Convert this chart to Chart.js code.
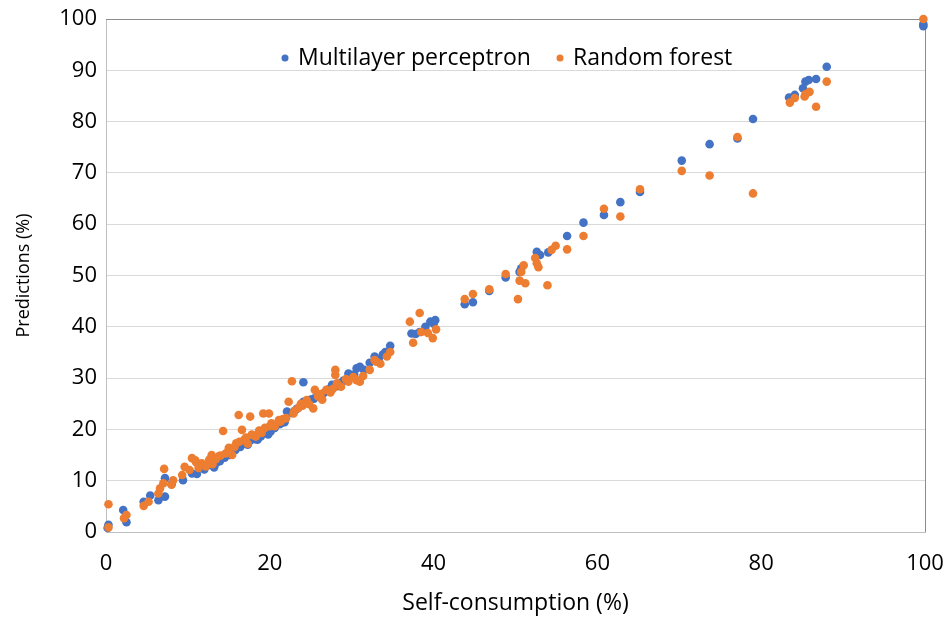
<!DOCTYPE html>
<html>
<head>
<meta charset="utf-8">
<script src="https://cdn.jsdelivr.net/npm/chart.js@4.4.0/dist/chart.umd.min.js"></script>
<style>
  body { margin: 0; background: #fff; }
  #wrap { width: 947px; height: 619px; position: relative; }
</style>
</head>
<body>
<div id="wrap"><canvas id="myChart"></canvas></div>
<script>
// series names
const seriesNames = ['Multilayer perceptron', 'Random forest'];

// Multilayer perceptron: self-consumption (x) vs prediction (y)
const mlpX = [0.2, 0.3, 2.1, 2.5, 4.6, 5.4, 6.4, 7.2, 7.2, 8.0, 9.4, 10.5, 11.1, 11.8, 12.5, 13.2, 13.9, 14.5,
  15.1, 15.8, 16.4, 17.0, 17.6, 18.2, 18.9, 19.5, 20.1, 20.6, 21.2, 21.8, 22.1, 22.7, 23.3, 24.1, 24.1, 24.8,
  25.4, 26.0, 26.6, 27.2, 27.6, 28.2, 29.0, 29.6, 30.0, 30.6, 31.0, 31.5, 32.2, 32.8, 33.3, 34.1, 34.7, 37.3,
  37.8, 38.3, 39.0, 39.6, 40.2, 40.0, 43.8, 44.8, 46.8, 48.8, 50.5, 50.7, 52.6, 53.0, 54.0, 56.3, 58.3, 60.8,
  62.8, 65.2, 70.3, 73.7, 77.1, 79.0, 83.4, 84.1, 85.1, 85.4, 85.8, 86.7, 88.0, 99.8, 99.8,
  12.0, 13.5, 15.5, 17.3, 18.5, 19.8, 21.5, 23.0, 25.0, 26.3, 28.6, 30.3, 33.8];
const mlpY = [0.8, 1.4, 4.3, 1.9, 5.9, 7.1, 6.2, 6.9, 10.5, 9.3, 10.1, 11.4, 11.3, 12.6, 13.0, 12.6, 13.8, 14.5,
  15.0, 16.0, 16.6, 17.2, 17.8, 18.1, 18.6, 19.5, 19.6, 20.3, 21.0, 21.4, 23.5, 23.2, 24.0, 25.4, 29.2, 25.5,
  26.0, 26.8, 27.1, 27.8, 28.7, 28.4, 29.5, 30.9, 30.6, 31.9, 32.2, 31.6, 33.0, 34.2, 33.6, 35.1, 36.3, 38.7,
  38.6, 39.0, 40.0, 41.0, 41.3, 40.6, 44.4, 44.8, 47.0, 49.6, 50.7, 51.4, 54.6, 54.0, 54.5, 57.7, 60.3, 61.8,
  64.3, 66.3, 72.4, 75.6, 76.7, 80.5, 84.7, 85.2, 86.5, 87.8, 88.1, 88.3, 90.7, 98.6, 99.0,
  12.2, 13.5, 15.8, 17.0, 18.0, 19.0, 21.3, 23.6, 25.8, 26.5, 29.0, 30.7, 34.6];

// Random forest: self-consumption (x) vs prediction (y)
const rfX = [0.3, 0.3, 2.2, 2.5, 4.6, 5.2, 6.4, 6.6, 7.0, 7.1, 8.0, 8.2, 9.3, 9.6, 10.5, 10.9, 11.3, 11.7, 12.2,
  12.9, 13.4, 13.8, 14.3, 14.6, 15.0, 15.4, 15.9, 16.2, 16.6, 16.9, 17.3, 17.6, 17.8, 18.3, 18.7, 19.2, 19.4,
  19.9, 20.2, 20.6, 21.1, 21.6, 22.3, 22.7, 22.9, 23.5, 24.0, 24.5, 25.3, 25.5, 25.9, 26.4, 26.9, 27.4, 28.0,
  28.0, 28.2, 28.7, 29.3, 29.6, 30.2, 31.0, 31.4, 32.2, 32.8, 33.5, 34.3, 34.7, 37.1, 37.5, 38.3, 38.5, 39.3,
  39.9, 40.3, 43.8, 44.8, 46.8, 48.8, 50.3, 50.5, 51.2, 50.7, 51.0, 52.4, 52.6, 52.8, 53.9, 54.4, 54.9, 56.3,
  58.3, 60.8, 62.8, 65.2, 70.3, 73.7, 77.1, 79.0, 83.5, 84.1, 85.3, 85.4, 85.9, 86.7, 88.0, 99.8,
  10.2, 11.0, 12.6, 13.0, 14.0, 14.9, 15.7, 16.3, 17.1, 18.0, 19.0, 20.0, 21.3, 22.0, 23.0, 23.8, 24.8, 26.2,
  27.7, 30.6, 33.0];
const rfY = [0.9, 5.4, 2.7, 3.3, 5.1, 5.9, 7.5, 8.5, 9.5, 12.3, 9.2, 10.1, 11.1, 12.7, 14.4, 14.0, 12.5, 13.4, 12.8,
  15.0, 14.2, 14.8, 19.7, 15.3, 16.4, 15.0, 17.3, 22.8, 19.9, 18.0, 17.2, 22.5, 19.0, 18.6, 19.8, 23.1, 20.3,
  23.1, 21.2, 20.6, 21.8, 22.0, 25.4, 29.4, 23.1, 24.2, 24.6, 25.7, 24.1, 27.7, 26.4, 25.8, 27.7, 27.2, 31.6,
  30.6, 29.0, 28.3, 29.8, 29.3, 30.2, 29.3, 30.4, 31.6, 33.5, 32.8, 34.2, 35.1, 41.0, 36.9, 42.7, 39.0, 38.8,
  37.8, 39.5, 45.4, 46.4, 47.3, 50.3, 45.4, 49.0, 48.5, 50.7, 52.0, 53.4, 52.4, 51.6, 48.1, 55.0, 55.8, 55.1,
  57.7, 63.0, 61.5, 66.8, 70.4, 69.5, 77.0, 66.0, 83.7, 84.6, 84.9, 85.3, 85.8, 82.9, 87.8, 100,
  12.1, 13.6, 14.1, 13.2, 14.9, 15.7, 16.6, 17.6, 18.4, 18.8, 19.3, 20.6, 21.5, 22.2, 23.6, 25.0, 24.9, 26.9,
  27.9, 29.6, 33.2];

const xTicks = [0, 20, 40, 60, 80, 100];
const yTicks = [0, 10, 20, 30, 40, 50, 60, 70, 80, 90, 100];

const blue = '#4472C4';
const orange = '#ED7D31';
const FONT = '"Open Sans", Lato, sans-serif';

function toPoints(xs, ys) {
  return xs.map((x, i) => ({ x: x, y: ys[i] }));
}

// legend drawn inside the plot area, like the spreadsheet chart
const insideLegend = {
  id: 'insideLegend',
  afterDraw(chart) {
    const ctx = chart.ctx;
    const items = [
      { text: seriesNames[0], color: blue, dot: 285 },
      { text: seriesNames[1], color: orange, dot: 560 }
    ];
    ctx.save();
    ctx.font = '23px ' + FONT;
    ctx.textBaseline = 'middle';
    items.forEach(it => {
      ctx.beginPath();
      ctx.fillStyle = it.color;
      ctx.arc(it.dot, 58, 3.5, 0, Math.PI * 2);
      ctx.fill();
      ctx.fillStyle = '#000';
      ctx.fillText(it.text, it.dot + 13, 58);
    });
    ctx.restore();
  }
};

// plot area outline (top and right edges)
const plotBorder = {
  id: 'plotBorder',
  beforeDatasetsDraw(chart) {
    const a = chart.chartArea;
    const ctx = chart.ctx;
    ctx.save();
    ctx.strokeStyle = '#8c8c8c';
    ctx.lineWidth = 1;
    ctx.beginPath();
    ctx.moveTo(a.left, a.top + 0.5);
    ctx.lineTo(a.right + 0.5, a.top + 0.5);
    ctx.lineTo(a.right + 0.5, a.bottom);
    ctx.stroke();
    ctx.restore();
  }
};

const config = {
  type: 'scatter',
  data: {
    datasets: [{
      label: seriesNames[0],
      data: toPoints(mlpX, mlpY),
      backgroundColor: blue,
      borderColor: blue,
      pointRadius: 4.3,
      borderWidth: 0,
      order: 2,
      clip: false
    }, {
      label: seriesNames[1],
      data: toPoints(rfX, rfY),
      backgroundColor: orange,
      borderColor: orange,
      pointRadius: 4.3,
      borderWidth: 0,
      order: 1,
      clip: false
    }]
  },
  options: {
    responsive: true,
    maintainAspectRatio: false,
    animation: false,
    layout: {
      padding: { left: 0, right: 22, top: 19, bottom: 0 }
    },
    plugins: {
      legend: { display: false },
      tooltip: { enabled: false }
    },
    scales: {
      x: {
        type: 'linear',
        min: 0,
        max: 100,
        afterBuildTicks: s => { s.ticks = xTicks.map(v => ({ value: v })); },
        afterFit: s => { s.height = 87; s.paddingLeft = 0; s.paddingRight = 0; },
        ticks: {
          color: '#000',
          padding: 19,
          font: { family: FONT, size: 22 }
        },
        grid: { display: false, drawTicks: false },
        border: { display: true, color: '#bfbfbf', width: 1 },
        title: {
          display: true,
          text: 'Self-consumption (%)',
          color: '#000',
          padding: { top: 0, bottom: 2 },
          font: { family: FONT, size: 23 }
        }
      },
      y: {
        type: 'linear',
        min: 0,
        max: 100,
        afterBuildTicks: s => { s.ticks = yTicks.map(v => ({ value: v })); },
        afterFit: s => { s.width = 106; s.paddingTop = 0; s.paddingBottom = 0; },
        ticks: {
          color: '#000',
          padding: 9,
          font: { family: FONT, size: 22 }
        },
        grid: { color: '#d9d9d9', lineWidth: 1, drawTicks: false },
        border: { display: true, color: '#bfbfbf', width: 1 },
        title: {
          display: true,
          text: 'Predictions (%)',
          color: '#000',
          padding: { top: 13, bottom: 0 },
          font: { family: FONT, size: 18 }
        }
      }
    }
  },
  plugins: [plotBorder, insideLegend]
};

const myChart = new Chart(document.getElementById('myChart'), config);
</script>
</body>
</html>
